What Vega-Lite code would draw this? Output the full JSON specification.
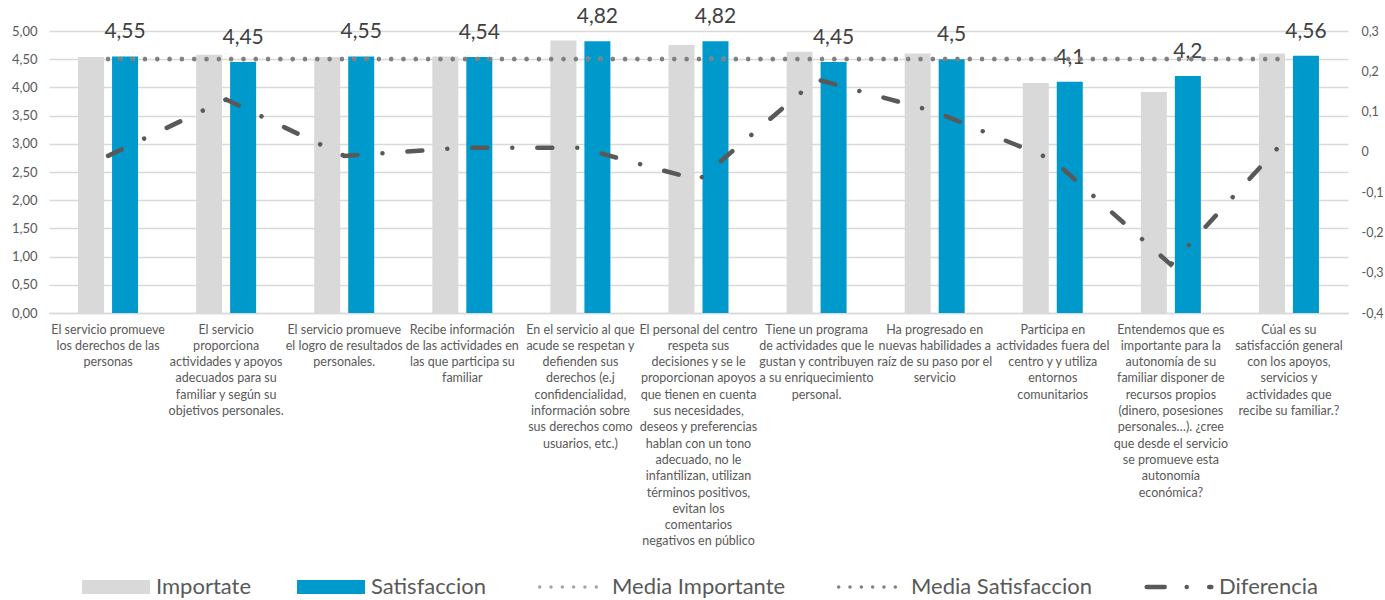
{
  "$schema": "https://vega.github.io/schema/vega-lite/v6.json",
  "width": 1299,
  "height": 282,
  "autosize": {"type": "none"},
  "padding": {"left": 49, "top": 31, "right": 37, "bottom": 287},
  "background": "#ffffff",
  "config": {
    "view": {"stroke": null},
    "locale": {"number": {"decimal": ",", "thousands": ".", "grouping": [3], "currency": ["", " €"], "minus": "-"}},
    "font": "Lato"
  },
  "data": {
    "values": [
      {"pregunta": "El servicio promueve\nlos derechos de las\npersonas", "Importate": 4.54, "Satisfaccion": 4.55, "MediaImportante": 4.51, "MediaSatisfaccion": 4.5, "Diferencia": -0.01},
      {"pregunta": "El servicio\nproporciona\nactividades y apoyos\nadecuados para su\nfamiliar y según su\nobjetivos personales.", "Importate": 4.58, "Satisfaccion": 4.45, "MediaImportante": 4.51, "MediaSatisfaccion": 4.5, "Diferencia": 0.13},
      {"pregunta": "El servicio promueve\nel logro de resultados\npersonales.", "Importate": 4.54, "Satisfaccion": 4.55, "MediaImportante": 4.51, "MediaSatisfaccion": 4.5, "Diferencia": -0.01},
      {"pregunta": "Recibe información\nde las actividades en\nlas que participa su\nfamiliar", "Importate": 4.55, "Satisfaccion": 4.54, "MediaImportante": 4.51, "MediaSatisfaccion": 4.5, "Diferencia": 0.01},
      {"pregunta": "En el servicio al que\nacude se respetan y\ndefienden sus\nderechos (e.j\nconfidencialidad,\ninformación sobre\nsus derechos como\nusuarios, etc.)", "Importate": 4.83, "Satisfaccion": 4.82, "MediaImportante": 4.51, "MediaSatisfaccion": 4.5, "Diferencia": 0.01},
      {"pregunta": "El personal del centro\nrespeta sus\ndecisiones y se le\nproporcionan apoyos\nque tienen en cuenta\nsus necesidades,\ndeseos y preferencias\nhablan con un tono\nadecuado, no le\ninfantilizan, utilizan\ntérminos positivos,\nevitan los\ncomentarios\nnegativos en público", "Importate": 4.75, "Satisfaccion": 4.82, "MediaImportante": 4.51, "MediaSatisfaccion": 4.5, "Diferencia": -0.07},
      {"pregunta": "Tiene un programa\nde actividades que le\ngustan y contribuyen\na su enriquecimiento\npersonal.", "Importate": 4.63, "Satisfaccion": 4.45, "MediaImportante": 4.51, "MediaSatisfaccion": 4.5, "Diferencia": 0.18},
      {"pregunta": "Ha progresado en\nnuevas habilidades a\nraíz de su paso por el\nservicio", "Importate": 4.6, "Satisfaccion": 4.5, "MediaImportante": 4.51, "MediaSatisfaccion": 4.5, "Diferencia": 0.1},
      {"pregunta": "Participa en\nactividades fuera del\ncentro y y utiliza\nentornos\ncomunitarios", "Importate": 4.08, "Satisfaccion": 4.1, "MediaImportante": 4.51, "MediaSatisfaccion": 4.5, "Diferencia": -0.02},
      {"pregunta": "Entendemos que es\nimportante para la\nautonomía de su\nfamiliar disponer de\nrecursos propios\n(dinero, posesiones\npersonales…). ¿cree\nque desde el servicio\nse promueve esta\nautonomía\neconómica?", "Importate": 3.92, "Satisfaccion": 4.2, "MediaImportante": 4.51, "MediaSatisfaccion": 4.5, "Diferencia": -0.28},
      {"pregunta": "Cúal es su\nsatisfacción general\ncon los apoyos,\nservicios y\nactividades que\nrecibe su familiar.?", "Importate": 4.6, "Satisfaccion": 4.56, "MediaImportante": 4.51, "MediaSatisfaccion": 4.5, "Diferencia": 0.04}
    ]
  },
  "encoding": {
    "x": {
      "field": "pregunta",
      "type": "nominal",
      "sort": null,
      "scale": {"paddingInner": 0.492, "paddingOuter": 0.246},
      "axis": {
        "title": null,
        "labelExpr": "split(datum.value, '\\n')",
        "labelAngle": 0,
        "labelFont": "Lato",
        "labelFontSize": 12.5,
        "labelColor": "#595959",
        "labelLineHeight": 16.3,
        "labelPadding": 10,
        "labelLimit": 300,
        "labelOverlap": false,
        "ticks": false,
        "domain": true,
        "domainColor": "#D9D9D9",
        "domainWidth": 1.3
      }
    }
  },
  "layer": [
    {
      "transform": [{"fold": ["Importate", "Satisfaccion"], "as": ["serie", "valor"]}],
      "encoding": {
        "xOffset": {"field": "serie", "type": "nominal", "scale": {"paddingInner": 0.235, "paddingOuter": 0}},
        "y": {
          "field": "valor",
          "type": "quantitative",
          "stack": null,
          "scale": {"domain": [0, 5], "nice": false, "zero": true},
          "axis": {
            "title": null,
            "values": [0, 0.5, 1, 1.5, 2, 2.5, 3, 3.5, 4, 4.5, 5],
            "format": ".2f",
            "labelFont": "Lato",
            "labelFontSize": 13,
            "labelColor": "#595959",
            "labelPadding": 12,
            "labelOverlap": false,
            "ticks": false,
            "domain": false,
            "grid": true,
            "gridColor": "#D9D9D9",
            "gridWidth": 1.3
          }
        }
      },
      "layer": [
        {
          "mark": {"type": "bar"},
          "encoding": {
            "color": {
              "field": "serie",
              "type": "nominal",
              "scale": {
                "domain": ["Importate", "Satisfaccion", "Media Importante", "Media Satisfaccion", "Diferencia"],
                "range": ["#D9D9D9", "#0099CC", "#A5A5A5", "#7F7F7F", "#595959"]
              },
              "legend": {
                "title": null,
                "orient": "none",
                "legendX": 33,
                "legendY": 545,
                "direction": "horizontal",
                "columns": 5,
                "padding": 0,
                "labelFont": "Lato",
                "labelFontSize": 22,
                "labelColor": "#595959",
                "symbolOffset": 23,
                "labelOffset": 29,
                "labelLimit": 400,
                "columnPadding": 45,
                "symbolSize": 4624,
                "symbolStrokeWidth": 0,
                "encode": {
                  "symbols": {
                    "update": {
                      "size": {"value": 4624},
                      "shape": {"signal": "(datum.value === 'Importate' || datum.value === 'Satisfaccion') ? 'M-1,-0.206H1V0.206H-1Z' : 'M-0.95,0H0.95'"},
                      "fill": {"signal": "datum.value === 'Importate' ? '#D9D9D9' : (datum.value === 'Satisfaccion' ? '#0099CC' : 'transparent')"},
                      "stroke": {"signal": "(datum.value === 'Importate' || datum.value === 'Satisfaccion') ? 'transparent' : (datum.value === 'Media Importante' ? '#A5A5A5' : (datum.value === 'Media Satisfaccion' ? '#7F7F7F' : '#595959'))"},
                      "strokeWidth": {"signal": "(datum.value === 'Importate' || datum.value === 'Satisfaccion') ? 0 : (datum.value === 'Diferencia' ? 4.5 : 3.5)"},
                      "strokeDash": {"signal": "datum.value === 'Diferencia' ? [18, 22, 0.01, 22.5] : ((datum.value === 'Importate' || datum.value === 'Satisfaccion') ? [] : [0.01, 11.3])"},
                      "strokeCap": {"value": "round"},
                      "opacity": {"value": 1}
                    }
                  }
                }
              }
            }
          }
        },
        {
          "transform": [{"filter": "datum.serie === 'Satisfaccion'"}],
          "mark": {"type": "text", "baseline": "alphabetic", "align": "center", "dy": -18, "font": "Lato", "fontSize": 21, "color": "#404040"},
          "encoding": {
            "text": {"field": "valor", "type": "quantitative", "format": ".2~f"}
          }
        }
      ]
    },
    {
      "mark": {"type": "line", "strokeWidth": 4.4, "strokeCap": "round", "strokeDash": [0.01, 12.3]},
      "encoding": {
        "y": {"field": "MediaImportante", "type": "quantitative", "scale": {"domain": [0, 5], "nice": false}, "axis": null},
        "color": {"datum": "Media Importante"}
      }
    },
    {
      "mark": {"type": "line", "strokeWidth": 4.4, "strokeCap": "round", "strokeDash": [0.01, 12.3]},
      "encoding": {
        "y": {"field": "MediaSatisfaccion", "type": "quantitative", "scale": {"domain": [0, 5], "nice": false}, "axis": null},
        "color": {"datum": "Media Satisfaccion"}
      }
    },
    {
      "mark": {"type": "line", "strokeWidth": 4.5, "strokeCap": "round", "strokeDash": [15, 25, 0.01, 25]},
      "encoding": {
        "y": {
          "field": "Diferencia",
          "type": "quantitative",
          "scale": {"domain": [-0.4, 0.3], "nice": false, "zero": false},
          "axis": {
            "orient": "right",
            "title": null,
            "values": [-0.4, -0.3, -0.2, -0.1, 0, 0.1, 0.2, 0.3],
            "format": ".1~f",
            "labelFont": "Lato",
            "labelFontSize": 12.5,
            "labelColor": "#595959",
            "labelPadding": 13,
            "labelOverlap": false,
            "ticks": false,
            "domain": false,
            "grid": false
          }
        },
        "color": {"datum": "Diferencia"}
      }
    }
  ],
  "resolve": {"scale": {"y": "independent"}}
}
